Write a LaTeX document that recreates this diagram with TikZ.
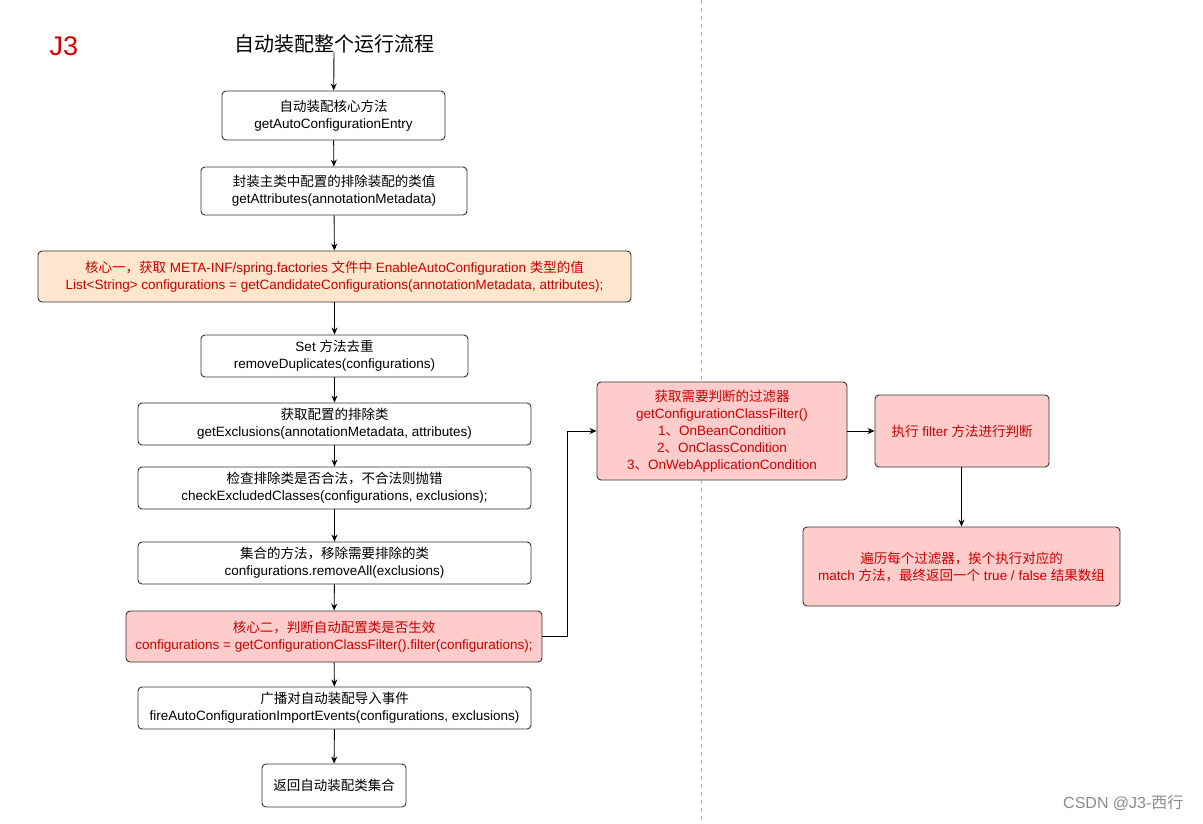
\documentclass[tikz,border=0pt]{standalone}
\usepackage{fontspec}
\setmainfont{Liberation Sans}
\newfontfamily\cjk{Noto Sans CJK SC}
\usetikzlibrary{arrows.meta}
\definecolor{txtred}{HTML}{CC0000}
\definecolor{orangefill}{HTML}{FFE6CC}
\definecolor{redfill}{HTML}{FFCCCC}
\definecolor{edge}{HTML}{333333}
\tikzset{
  box/.style={draw=edge, line width=0.9pt, rounded corners=4pt, align=center, inner sep=0pt, fill=white,
    font=\fontsize{13.5}{17}\selectfont},
  obox/.style={box, fill=orangefill, text=txtred},
  rbox/.style={box, fill=redfill, text=txtred},
  conn/.style={draw=black, line width=0.9pt, -{Stealth[length=7pt,width=6pt]}}
}
\begin{document}
\begin{tikzpicture}[x=1pt,y=-1pt]
\useasboundingbox[fill=white] (0,0) rectangle (1203,823);
\draw[draw=black!25, line width=0.8pt, dash pattern=on 4pt off 4pt] (701,0) -- (701,823);
\node[text=red!85!black, font=\fontsize{27}{30}\selectfont, anchor=center] (j3) at (64,46) {J3};
\node[font=\cjk\fontsize{20}{24}\selectfont] (title) at (334,44) {自动装配整个运行流程};
\coordinate (tstart) at (334,52);

\node[box, minimum width=223pt, minimum height=49pt] (n1) at (333.5,115.5)
  {{\cjk 自动装配核心方法}\\getAutoConfigurationEntry};
\node[box, minimum width=266pt, minimum height=48pt] (n2) at (334,191)
  {{\cjk 封装主类中配置的排除装配的类值}\\getAttributes(annotationMetadata)};
\node[obox, minimum width=593pt, minimum height=51pt] (n3) at (334.5,276.5)
  {{\cjk 核心一，获取} META-INF/spring.factories {\cjk 文件中} EnableAutoConfiguration {\cjk 类型的值}\\List<String> configurations = getCandidateConfigurations(annotationMetadata, attributes);};
\node[box, minimum width=267pt, minimum height=42pt] (n4) at (334.5,356)
  {Set {\cjk 方法去重}\\removeDuplicates(configurations)};
\node[box, minimum width=393pt, minimum height=42pt] (n5) at (334.5,424)
  {{\cjk 获取配置的排除类}\\getExclusions(annotationMetadata, attributes)};
\node[box, minimum width=393pt, minimum height=42pt] (n6) at (334.5,488)
  {{\cjk 检查排除类是否合法，不合法则抛错}\\checkExcludedClasses(configurations, exclusions);};
\node[box, minimum width=393pt, minimum height=42pt] (n7) at (334.5,563)
  {{\cjk 集合的方法，移除需要排除的类}\\configurations.removeAll(exclusions)};
\node[rbox, minimum width=416pt, minimum height=51pt] (n8) at (334,636.5)
  {{\cjk 核心二，判断自动配置类是否生效}\\configurations = getConfigurationClassFilter().filter(configurations);};
\node[box, minimum width=393pt, minimum height=42pt] (n9) at (334.5,708)
  {{\cjk 广播对自动装配导入事件}\\fireAutoConfigurationImportEvents(configurations, exclusions)};
\node[box, minimum width=144pt, minimum height=43pt] (n10) at (334,785.5)
  {{\cjk 返回自动装配类集合}};

\node[rbox, minimum width=250pt, minimum height=98pt] (f1) at (722,431)
  {{\cjk 获取需要判断的过滤器}\\getConfigurationClassFilter()\\1{\cjk 、}OnBeanCondition\\2{\cjk 、}OnClassCondition\\3{\cjk 、}OnWebApplicationCondition};
\node[rbox, minimum width=174pt, minimum height=72pt] (f2) at (962,431)
  {{\cjk 执行} filter {\cjk 方法进行判断}};
\node[rbox, minimum width=317pt, minimum height=79pt] (f3) at (961.5,566.5)
  {{\cjk 遍历每个过滤器，挨个执行对应的}\\match {\cjk 方法，最终返回一个} true / false {\cjk 结果数组}};

\draw[conn] (tstart) -- (n1);
\draw[conn] (n1) -- (n2);
\draw[conn] (n2) -- (n3);
\draw[conn] (n3) -- (n4);
\draw[conn] (n4) -- (n5);
\draw[conn] (n5) -- (n6);
\draw[conn] (n6) -- (n7);
\draw[conn] (n7) -- (n8);
\draw[conn] (n8) -- (n9);
\draw[conn] (n9) -- (n10);
\draw[conn] (n8.east) -- ++(25,0) |- (f1.west);
\draw[conn] (f1) -- (f2);
\draw[conn] (f2.south -| f3.north) -- (f3.north);

\node[text=black!45, font=\fontsize{16}{18}\selectfont, anchor=east] (wm) at (1187,803)
  {CSDN @J3-{\cjk 西行}};
\end{tikzpicture}
\end{document}
